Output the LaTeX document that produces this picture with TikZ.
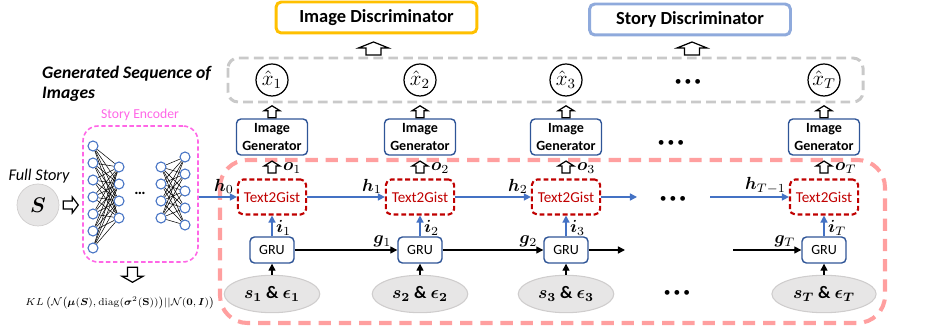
\documentclass[tikz,border=0pt]{standalone}
\usepackage{amsmath}
\usepackage{bm}
\usepackage[no-math]{fontspec}
\setmainfont{Carlito}
\usepackage{tikz}
\usetikzlibrary{positioning, calc, shapes.geometric, arrows.meta}

\definecolor{discgold}{HTML}{FFC000}
\definecolor{discblue}{HTML}{8FAADC}
\definecolor{seqgray}{HTML}{C9C9C9}
\definecolor{loopred}{HTML}{FF9F9F}
\definecolor{encpink}{HTML}{FF66E6}
\definecolor{boxblue}{HTML}{2F5597}
\definecolor{nodeblue}{HTML}{4472C4}
\definecolor{gistred}{HTML}{C00000}
\definecolor{ellgray}{HTML}{E7E6E6}
\definecolor{ellline}{HTML}{CFCDCD}

\begin{document}
\begin{tikzpicture}[x=0.02cm, y=-0.02cm,
    discbox/.style={draw, rounded corners=3pt, line width=1.7pt, minimum width=4.02cm,
      minimum height=0.62cm, font=\bfseries\fontsize{10.5}{12}\selectfont},
    seqbox/.style={draw=seqgray, line width=1.7pt, dash pattern=on 5.5pt off 3pt, rounded corners=0.2cm},
    loopbox/.style={draw=loopred, line width=2.3pt, dash pattern=on 7pt off 4.5pt, rounded corners=0.55cm},
    encbox/.style={draw=encpink, line width=0.9pt, dash pattern=on 2.5pt off 1.5pt, rounded corners=0.3cm},
    outimg/.style={circle, draw, line width=0.7pt, minimum size=0.64cm, inner sep=0pt,
      font=\fontsize{12}{13}\selectfont},
    genbox/.style={draw=boxblue, rounded corners=2.5pt, line width=0.8pt, minimum width=1.42cm,
      minimum height=0.72cm, align=center, inner sep=1pt, font=\bfseries\fontsize{8}{9.7}\selectfont},
    gistbox/.style={draw=gistred, text=gistred, rounded corners=3pt, line width=1.2pt,
      dash pattern=on 2.8pt off 1.6pt, minimum width=1.34cm, minimum height=0.7cm,
      font=\fontsize{8.6}{10}\selectfont},
    grubox/.style={draw=boxblue, rounded corners=2.5pt, line width=0.8pt, minimum width=0.88cm,
      minimum height=0.52cm, font=\fontsize{8}{10}\selectfont},
    inbox/.style={ellipse, draw=ellline, fill=ellgray, line width=0.6pt, minimum width=1.84cm,
      minimum height=0.64cm, font=\fontsize{10}{11}\selectfont},
    neuron/.style={circle, draw=nodeblue, fill=white, line width=0.6pt, minimum size=0.2cm, inner sep=0pt},
    wire/.style={line width=0.3pt},
    harrow/.style={nodeblue, line width=0.8pt, -{Triangle[length=4pt,width=4pt]}},
    garrow/.style={black, line width=0.8pt, -{Triangle[length=4pt,width=4pt]}},
    lab/.style={inner sep=1pt, font=\fontsize{10}{11}\selectfont},
    dots/.style={font=\fontsize{6}{6}\selectfont},
    pics/hollow/.style n args={4}{code={
      \draw[fill=white, line width=0.7pt, line join=miter]
        (-#1,#3/2) -- (-#1,-#3/2+#4) -- (-#2,-#3/2+#4) -- (0,-#3/2)
        -- (#2,-#3/2+#4) -- (#1,-#3/2+#4) -- (#1,#3/2) -- cycle;
    }}]

      \useasboundingbox (0,0) rectangle (942,330);

      \node[discbox, draw=discgold] (imgd) at (376.5,17.5) {Image Discriminator};
      \node[discbox, draw=discblue] (stod) at (690,19.5) {Story Discriminator};
      \pic at ($(imgd.south)+(-3,14)$) {hollow={7.5}{15}{13}{6}};
      \pic at ($(stod.south)+(2,12)$) {hollow={7.5}{15}{13}{6}};

      \draw[seqbox] (228,58) rectangle (863,102);
      \draw[loopbox] (220,160) rectangle (885,323);
      \node[font=\bfseries\itshape\fontsize{10}{11.4}\selectfont, align=left, anchor=north west]
        (seqlab) at (36,60) {Generated Sequence of\\Images};

      \foreach \i/\x in {1/272, 2/420, 3/566, T/824} {
        \node[outimg] (x\i) at (\x,80) {$\hat{x}_{\i}$};
        \node[genbox] (gen\i) at (\x,137) {Image\\Generator};
        \node[gistbox] (gist\i) at (\x,197) {Text2Gist};
        \node[grubox] (gru\i) at (\x,250) {GRU};
        \node[inbox] (inp\i) at (\x,294) {$\boldsymbol{s_{\i}}$ \textbf{\&} $\boldsymbol{\epsilon_{\i}}$};
        \pic at ($(gen\i.north)!0.3!(x\i.south)$) {hollow={4}{8}{12}{5}};
        \pic at ($(gist\i.north)!0.5!(gen\i.south)$) {hollow={4}{8}{12}{5}};
        \node[lab, anchor=west] (o\i) at ($(gist\i.north)!0.5!(gen\i.south)+(9,1)$) {$\boldsymbol{o}_{\i}$};
        \draw[harrow] (gru\i) -- (gist\i);
        \node[lab, anchor=west] (il\i) at ($(gru\i.north)!0.5!(gist\i.south)+(2,2)$) {$\boldsymbol{i}_{\i}$};
        \draw[garrow] (inp\i) -- (gru\i);
      }

      \node[dots] (dx) at (688,82) {$\bullet\bullet\bullet$};
      \node[dots] (dg) at (671,143) {$\bullet\bullet\bullet$};
      \node[dots] (dh) at (673,199) {$\bullet\bullet\bullet$};
      \node[dots] (ds) at (677,293) {$\bullet\bullet\bullet$};

      % story encoder
      \node[encbox, minimum width=2.3cm, minimum height=2.72cm] (enc) at (140.5,194) {};
      \node[font=\fontsize{7.8}{9}\selectfont, text=encpink] (enclab) at (140,115) {Story Encoder};
      \foreach \k in {1,...,7} \node[neuron] (a\k) at (93,129+17*\k) {};
      \foreach \k in {1,...,4} \node[neuron] (b\k) at (119,150+17*\k) {};
      \foreach \k in {1,...,4} \node[neuron] (c\k) at (161,150+17*\k) {};
      \foreach \k in {1,...,5} \node[neuron] (d\k) at (185,140+17*\k) {};
      \foreach \m in {1,...,7} \foreach \n in {1,...,4} \draw[wire] (a\m) -- (b\n);
      \foreach \m in {1,...,4} \foreach \n in {1,...,5} \draw[wire] (c\m) -- (d\n);
      \node[font=\bfseries\fontsize{9}{9}\selectfont] (encdots) at (140,193) {\ldots};

      \node[font=\itshape\fontsize{9.3}{11}\selectfont] (fslab) at (39,176) {Full Story};
      \node[circle, draw=ellline, fill=ellgray, minimum size=0.84cm, inner sep=0pt,
        font=\fontsize{12}{13}\selectfont] (story) at (38,205) {$\boldsymbol{S}$};
      \pic[rotate=-90] at ($(story.east)!0.5!(enc.west |- story.east)$) {hollow={4}{8}{15}{6}};
      \pic[rotate=180] at ($(enc.south)+(-8,12)$) {hollow={5}{10.5}{15}{6}};
      \node[font=\fontsize{7}{8}\selectfont, scale=0.82] (kl) at (120,303)
        {$KL\left(\mathcal{N}\big(\boldsymbol{\mu}(\boldsymbol{S}),\mathrm{diag}(\boldsymbol{\sigma}^2(\mathbf{S}))\big)||\mathcal{N}(\mathbf{0},\boldsymbol{I})\right)$};

      % hidden states
      \draw[harrow] (enc.east |- gist1.west) -- (gist1.west);
      \draw[harrow] (gist1) -- (gist2);
      \draw[harrow] (gist2) -- (gist3);
      \coordinate (hend) at (637,197);
      \coordinate (hstart) at (710,197);
      \draw[harrow] (gist3) -- (hend);
      \draw[harrow] (hstart) -- (gistT);
      \node[lab, anchor=south east] (h0) at ($(gist1.west)+(-1,-1)$) {$\boldsymbol{h}_0$};
      \node[lab, anchor=south east] (h1) at ($(gist2.west)+(-1,-1)$) {$\boldsymbol{h}_1$};
      \node[lab, anchor=south east] (h2) at ($(gist3.west)+(-1,-1)$) {$\boldsymbol{h}_2$};
      \node[lab, anchor=south east] (hT) at ($(gistT.west)+(-1,-1)$) {$\boldsymbol{h}_{T-1}$};

      % gru states
      \draw[garrow] (gru1) -- (gru2);
      \draw[garrow] (gru2) -- (gru3);
      \coordinate (gend) at (625,250);
      \coordinate (gstart) at (733,250);
      \draw[garrow] (gru3) -- (gend);
      \draw[garrow] (gstart) -- (gruT);
      \node[lab, anchor=south east] (g1) at ($(gru2.west)+(-4,-1)$) {$\boldsymbol{g}_1$};
      \node[lab, anchor=south east] (g2) at ($(gru3.west)+(-4,-1)$) {$\boldsymbol{g}_2$};
      \node[lab, anchor=south east] (gT) at ($(gruT.west)+(-4,-1)$) {$\boldsymbol{g}_T$};

    \end{tikzpicture}
\end{document}
